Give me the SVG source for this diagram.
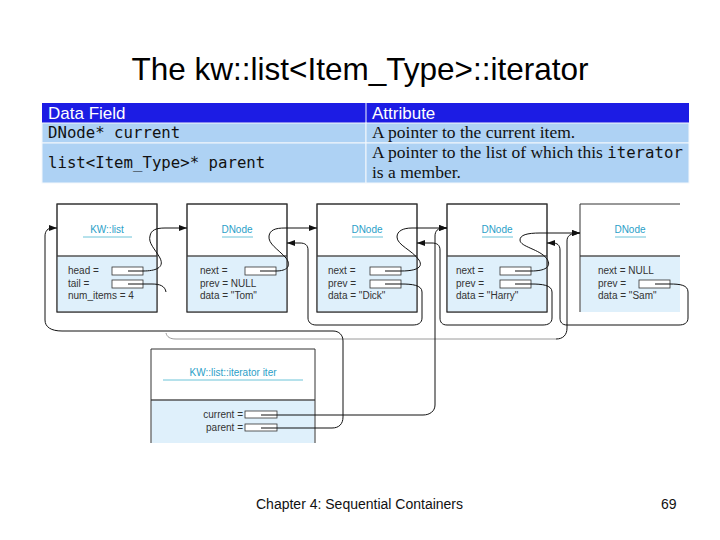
<svg xmlns="http://www.w3.org/2000/svg" width="720" height="540" viewBox="0 0 720 540">
<style>
.title{font-family:"Liberation Sans",Arial,sans-serif;font-size:31.5px;fill:#000}
.th{font-family:"Liberation Sans",Arial,sans-serif;font-size:17px;fill:#fff}
.mono{font-family:"DejaVu Sans Mono","Liberation Mono",monospace;font-size:15.7px;fill:#111}
.serif{font-family:"Liberation Serif","Times New Roman",serif;font-size:17.5px;fill:#111}
.row{fill:#aed2f4;stroke:#f4f8fc;stroke-width:1}
.nb{fill:#fff;stroke:#333;stroke-width:1}
.lo{fill:#dff0fb}
.div{stroke:#555;stroke-width:1.5}
.edge{stroke:#333;stroke-width:1;fill:none}
.nt{font-family:"Liberation Sans",Arial,sans-serif;font-size:10px;fill:#2aa0c8;text-anchor:middle}
.ul{stroke:#6cc4d8;stroke-width:1}
.f{font-family:"Liberation Sans",Arial,sans-serif;font-size:10px;fill:#333}
.fb{fill:#fff;stroke:#333;stroke-width:0.8}
.p{fill:none;stroke:#111;stroke-width:1}
.g{fill:none;stroke:#9a9a9a;stroke-width:1}
.foot{font-family:"Liberation Sans",Arial,sans-serif;font-size:14px;fill:#111}
</style>
<defs>
<marker id="ah" markerWidth="8" markerHeight="6" refX="8" refY="3" orient="auto" markerUnits="userSpaceOnUse"><path d="M0,0 L8,3 L0,6 z" fill="#111"/></marker>
</defs>
<rect width="720" height="540" fill="#fff"/>
<text class="title" x="360" y="80" text-anchor="middle">The kw::list&lt;Item_Type&gt;::iterator</text>

<g id="table">
<rect x="42" y="103" width="647" height="20" fill="#1c1ce4"/>
<line x1="366" y1="103" x2="366" y2="123" stroke="#f4f8fc" stroke-width="1"/>
<text class="th" x="48" y="119">Data Field</text>
<text class="th" x="372" y="119">Attribute</text>
<rect class="row" x="42" y="123" width="324" height="20"/>
<rect class="row" x="366" y="123" width="323" height="20"/>
<rect class="row" x="42" y="143" width="324" height="40"/>
<rect class="row" x="366" y="143" width="323" height="40"/>
<text class="mono" x="48" y="138">DNode* current</text>
<text class="mono" x="48" y="168">list&lt;Item_Type&gt;* parent</text>
<text class="serif" x="372" y="138">A pointer to the current item.</text>
<text class="serif" x="372" y="158">A pointer to the list of which this <tspan class="mono">iterator</tspan></text>
<text class="serif" x="372" y="178">is a member.</text>
</g>

<g id="kwlist">
<rect class="nb" x="57" y="204" width="100" height="108"/>
<rect class="lo" x="57.5" y="256" width="99" height="55.5"/>
<line class="div" x1="57" y1="256" x2="157" y2="256"/>
<rect class="edge" x="57" y="204" width="100" height="108"/>
<text class="nt" x="107" y="233">KW::list</text>
<line class="ul" x1="83" y1="237" x2="132" y2="237"/>
<text class="f" x="68" y="274">head =</text>
<text class="f" x="68" y="287">tail =</text>
<text class="f" x="68" y="299">num_items = 4</text>
<rect class="fb" x="112" y="267" width="31" height="8"/>
<rect class="fb" x="112" y="280" width="31" height="8"/>
</g>

<g id="dnode-tom">
<rect class="nb" x="187" y="204" width="100" height="108"/>
<rect class="lo" x="187.5" y="256" width="99" height="55.5"/>
<line class="div" x1="187" y1="256" x2="287" y2="256"/>
<rect class="edge" x="187" y="204" width="100" height="108"/>
<text class="nt" x="237" y="233">DNode</text>
<line class="ul" x1="222" y1="237" x2="253" y2="237"/>
<text class="f" x="200" y="274">next =</text>
<text class="f" x="200" y="287">prev = NULL</text>
<text class="f" x="200" y="299">data = "Tom"</text>
<rect class="fb" x="245" y="267" width="31" height="8"/>
</g>

<g id="dnode-dick">
<rect class="nb" x="317" y="204" width="100" height="108"/>
<rect class="lo" x="317.5" y="256" width="99" height="55.5"/>
<line class="div" x1="317" y1="256" x2="417" y2="256"/>
<rect class="edge" x="317" y="204" width="100" height="108"/>
<text class="nt" x="367" y="233">DNode</text>
<line class="ul" x1="352" y1="237" x2="383" y2="237"/>
<text class="f" x="328" y="274">next =</text>
<text class="f" x="328" y="287">prev =</text>
<text class="f" x="328" y="299">data = "Dick"</text>
<rect class="fb" x="370" y="267" width="31" height="8"/>
<rect class="fb" x="370" y="280" width="31" height="8"/>
</g>

<g id="dnode-harry">
<rect class="nb" x="447" y="204" width="100" height="108"/>
<rect class="lo" x="447.5" y="256" width="99" height="55.5"/>
<line class="div" x1="447" y1="256" x2="547" y2="256"/>
<rect class="edge" x="447" y="204" width="100" height="108"/>
<text class="nt" x="497" y="233">DNode</text>
<line class="ul" x1="482" y1="237" x2="513" y2="237"/>
<text class="f" x="456" y="274">next =</text>
<text class="f" x="456" y="287">prev =</text>
<text class="f" x="456" y="299">data = "Harry"</text>
<rect class="fb" x="500" y="267" width="31" height="8"/>
<rect class="fb" x="500" y="280" width="31" height="8"/>
</g>

<g id="dnode-sam">
<rect x="580" y="204" width="100" height="108" fill="#fff"/>
<rect class="lo" x="580.5" y="256" width="99.5" height="56"/>
<line class="div" x1="580" y1="256" x2="680" y2="256"/>
<path class="edge" d="M680,204 H580 V312"/>
<text class="nt" x="630" y="233">DNode</text>
<line class="ul" x1="615" y1="237" x2="646" y2="237"/>
<text class="f" x="598" y="274">next = NULL</text>
<text class="f" x="598" y="287">prev =</text>
<text class="f" x="598" y="299">data = "Sam"</text>
<rect class="fb" x="639" y="280" width="31" height="8"/>
</g>

<g id="iterator">
<rect x="151" y="349" width="164" height="94" fill="#fff"/>
<rect class="lo" x="151.5" y="400" width="163" height="43"/>
<line class="div" x1="151" y1="400" x2="315" y2="400"/>
<path class="edge" d="M151,443 V349 H315 V443"/>
<text class="nt" x="233" y="376">KW::list::iterator iter</text>
<line class="ul" x1="163" y1="380" x2="303" y2="380"/>
<text class="f" x="243" y="418" text-anchor="end">current =</text>
<text class="f" x="243" y="431" text-anchor="end">parent =</text>
<rect class="fb" x="245" y="411" width="32" height="7"/>
<rect class="fb" x="245" y="424" width="32" height="7"/>
</g>

<g id="connectors">
<path class="p" d="M128,271 H143 C155,271 165,268 160,258 C155,249 148,243 150,236 C151,230 156,228 165,228 H187" marker-end="url(#ah)"/>
<path class="p" d="M128,284 H152 C160,284 165,286 166,292"/>
<path class="g" d="M166,333 C167,337 170,339 176,339 H556"/>
<path class="p" d="M556,339 C563,339 567,335 567,328 V241 C567,236 570,233 580,233" marker-end="url(#ah)"/>
<path class="p" d="M260,271 H276 C287,271 292,266 286,258 C278,249 268,244 269,236 C270,230 275,228 285,228 H317" marker-end="url(#ah)"/>
<path class="p" d="M385,271 H401 C415,271 424,268 419,260 C412,250 397,245 397,237 C397,231 403,228 412,228 H447" marker-end="url(#ah)"/>
<path class="p" d="M515,271 H531 C545,271 552,267 547,259 C540,249 520,247 520,240 C520,235 527,233 540,233 H580" marker-end="url(#ah)"/>
<path class="p" d="M385,284 H401 C412,284 422,285 422,292 V318 C422,323 418,325 413,325 H316 C311,325 308,322 308,318 V250 C308,245 305,243 300,243 H287" marker-end="url(#ah)"/>
<path class="p" d="M515,284 H531 C542,284 552,285 552,292 V318 C552,323 548,325 543,325 H447 C442,325 440,322 440,318 V250 C440,245 437,243 432,243 H417" marker-end="url(#ah)"/>
<path class="p" d="M655,284 H670 C680,284 688,285 688,292 V318 C688,323 684,325 679,325 H567 C562,325 560,322 560,318 V250 C560,245 557,243 553,243 H547" marker-end="url(#ah)"/>
<path class="p" d="M261,415 H423 C430,415 435,411 435,405 V236 C435,231 438,228 443,228 H447" marker-end="url(#ah)"/>
<path class="p" d="M261,428 H332 C339,428 343,424 343,417 V341 C343,335 339,331 333,331 H62 C51,331 45,327 45,320 V236 C45,231 48,228 52,228 H57" marker-end="url(#ah)"/>
</g>

<text class="foot" x="256" y="509">Chapter 4: Sequential Containers</text>
<text class="foot" x="661" y="509">69</text>
</svg>
